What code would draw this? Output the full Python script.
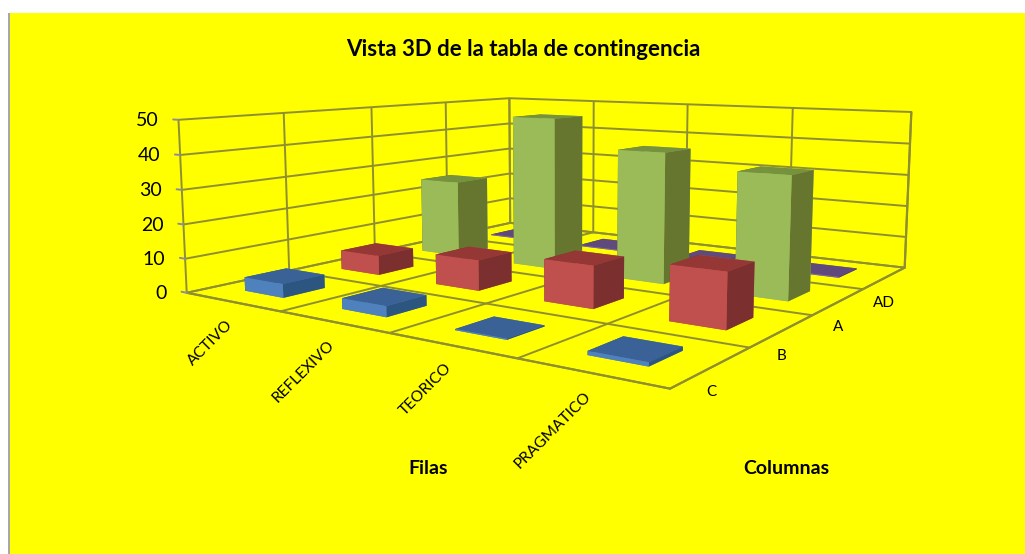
import numpy as np, matplotlib
matplotlib.use('Agg')
import matplotlib.pyplot as plt, seaborn as sns
from matplotlib.patches import Rectangle
from mpl_toolkits.mplot3d import proj3d

# ---- data ----
filas = ['ACTIVO', 'REFLEXIVO', 'TEORICO', 'PRAGMATICO']
columnas = ['C', 'B', 'A', 'AD']
valores_C = [4, 3, 0.3, 1]
valores_B = [6, 9, 12, 15]
valores_A = [25, 48, 39.5, 35.5]
valores_AD = [0.3, 0.3, 0.3, 0.3]
z_ticks = [0, 10, 20, 30, 40, 50]
titulo = 'Vista 3D de la tabla de contingencia'

series = [valores_C, valores_B, valores_A, valores_AD]
frente = sns.color_palette(['#4F81BD', '#C0504D', '#9BBB59', '#8064A2'])
lado = sns.color_palette(['#2C5580', '#7B2F2E', '#66762F', '#4B3A63'])
arriba = sns.color_palette(['#3A6296', '#953735', '#76923C', '#604A7B'])

sns.set_theme(style='white')
plt.rcParams['font.family'] = ['Lato', 'DejaVu Sans']

W, H = 1025, 554
fig = plt.figure(figsize=(W / 100, H / 100), dpi=100, facecolor='white')
fig.add_artist(Rectangle((9 / W, 0), 1 - 9 / W, 1 - 13 / H, transform=fig.transFigure,
                         facecolor='#FFFF00', edgecolor='none', zorder=-2))
fig.add_artist(Rectangle((8 / W, 0), 2 / W, 1 - 13 / H, transform=fig.transFigure,
                         facecolor='#A8A8A8', edgecolor='none', zorder=-1))

S = 729.7
ax = fig.add_axes([190.1 / W, -19.15 / H, S / W, S / H], projection='3d', computed_zorder=False)
ax.patch.set_alpha(0)
ax.view_init(elev=7.897, azim=-55.452)
ax.set_proj_type('persp', focal_length=0.282)
ax.set_box_aspect((3.618, 3.497, 1.135))
ax.set_xlim(0, len(filas))
ax.set_ylim(0, len(columnas))
ax.set_zlim(z_ticks[0], z_ticks[-1])

ancho = 0.41
for j, vals in enumerate(series):
    for i, v in enumerate(vals):
        # faces: -z, +z, -y, +y, -x, +x
        cols = [frente[j], arriba[j], frente[j], frente[j], lado[j], lado[j]]
        ax.bar3d(i + .5 - ancho / 2, j + .5 - ancho / 2, 0, ancho, ancho, v,
                 color=cols, shade=False, linewidth=0, zorder=10 + i - j * 2)

ax.set_xticks(range(len(filas) + 1))
ax.set_yticks(range(len(columnas) + 1))
ax.set_zticks(z_ticks)

linea = '#8F8F30'
for nombre, a in (('x', ax.xaxis), ('y', ax.yaxis), ('z', ax.zaxis)):
    a.set_pane_color((1, 1, 0, 0))
    a.pane.set_edgecolor(linea)
    a.line.set_color(linea)
    a.line.set_linewidth(1.6)
    a.label.set_visible(False)
    a.offsetText.set_visible(False)
    a._axinfo['grid'].update(color=linea, linewidth=1.4, linestyle='-')
    a._axinfo['tick'].update(inward_factor=0, outward_factor=0)
    ax.tick_params(axis=nombre, label1On=False, label2On=False)
ax.grid(True)

# short marks beside the value axis
for z in z_ticks:
    ax.plot([-0.06, 0], [0, 0], [z, z], color='#8C8CA0', linewidth=1.4, clip_on=False, zorder=1)


def rotulo(x, y, z, texto, dx, dy, **kw):
    """Label placed at a pixel offset from a point given in data coordinates."""
    u, v, _ = proj3d.proj_transform(x, y, z, ax.get_proj())
    ax.annotate(texto, xy=(u, v), xycoords='data', xytext=(dx, dy), textcoords='offset pixels',
                color='black', annotation_clip=False, **kw)


for i, f in enumerate(filas):
    rotulo(i + .5, 0, 0, f, -1, -21, ha='right', va='center', rotation=45,
           rotation_mode='anchor', fontsize=11.2)
for j, c in enumerate(columnas):
    rotulo(len(filas), j + .5, 0, c, -1, -25, ha='center', va='center', fontsize=11)
for z in z_ticks:
    rotulo(0, 0, z, str(z), -20, -1, ha='right', va='center', fontsize=14)

fig.text(523 / W, 1 - 49.5 / H, titulo, ha='center', va='center', fontsize=16, fontweight='bold', color='black')
fig.text(428 / W, 1 - 468 / H, 'Filas', ha='center', va='center', fontsize=14, fontweight='bold', color='black')
fig.text(786 / W, 1 - 468 / H, 'Columnas', ha='center', va='center', fontsize=14, fontweight='bold', color='black')

fig.savefig('out.png', dpi=100, facecolor='white')
